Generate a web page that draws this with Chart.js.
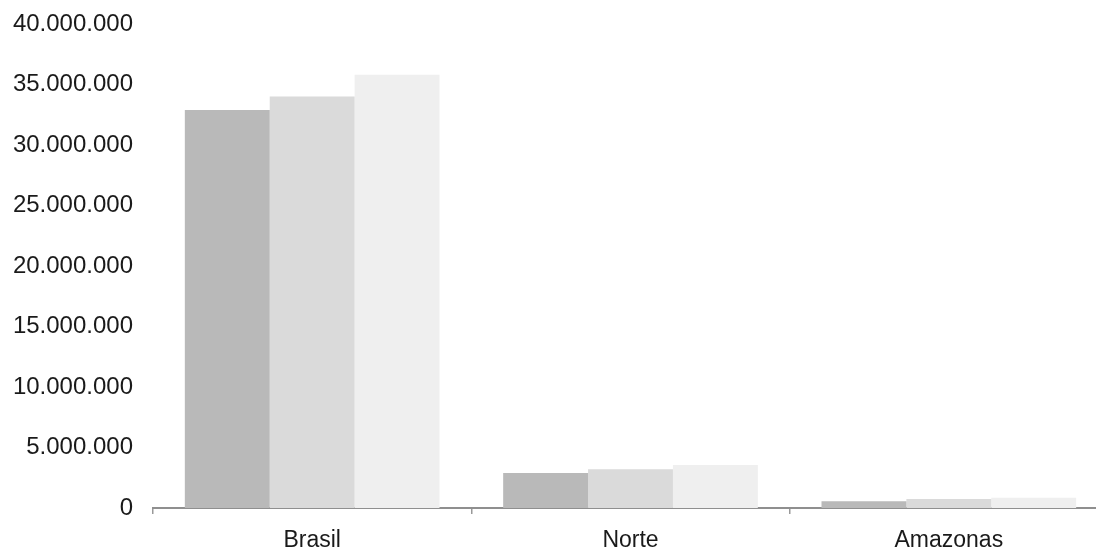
<!DOCTYPE html>
<html>
<head>
<meta charset="utf-8">
<script src="https://cdn.jsdelivr.net/npm/chart.js@4.4.1/dist/chart.umd.min.js"></script>
<style>
  html, body { margin: 0; padding: 0; background: #ffffff; overflow: hidden; }
  #wrap { width: 1096px; height: 551px; position: relative; overflow: hidden; }
</style>
</head>
<body>
<div id="wrap"><canvas id="c" width="1112" height="551"></canvas></div>
<script>
const categories = ["Brasil", "Norte", "Amazonas"];
const series1 = [32900000, 2900000, 550000];
const series2 = [34000000, 3200000, 750000];
const series3 = [35800000, 3550000, 850000];
const yTicks = [0, 5000000, 10000000, 15000000, 20000000, 25000000, 30000000, 35000000, 40000000];

function fmt(v) {
  return String(v).replace(/\B(?=(\d{3})+(?!\d))/g, ".");
}

const font = { family: "'Liberation Sans', Arial, sans-serif", size: 24 };

new Chart(document.getElementById("c"), {
  type: "bar",
  data: {
    labels: categories,
    datasets: [
      { label: "1", data: series1, backgroundColor: "#b9b9b9", borderWidth: 0 },
      { label: "2", data: series2, backgroundColor: "#dadada", borderWidth: 0 },
      { label: "3", data: series3, backgroundColor: "#efefef", borderWidth: 0 }
    ]
  },
  options: {
    responsive: false,
    animation: false,
    events: [],
    layout: { padding: { top: 24, right: 4, left: 0, bottom: 0 } },
    plugins: { legend: { display: false }, tooltip: { enabled: false } },
    datasets: { bar: { categoryPercentage: 0.8, barPercentage: 1.0 } },
    scales: {
      x: {
        grid: { display: true, drawOnChartArea: false, drawTicks: true, tickLength: 6, color: "#999999", lineWidth: 1.5, offset: true },
        border: { display: true, color: "#8f8f8f", width: 2 },
        ticks: { color: "#1a1a1a", font: { family: font.family, size: 23 }, padding: 13, maxRotation: 0 },
        afterFit: function (s) { s.height = 43; }
      },
      y: {
        min: 0,
        max: 40000000,
        grid: { display: false, drawTicks: false },
        border: { display: false },
        afterBuildTicks: function (s) { s.ticks = yTicks.map(v => ({ value: v })); },
        ticks: { color: "#1a1a1a", font: font, padding: 20, callback: v => fmt(v) },
        afterFit: function (s) { s.width = 153; s.paddingTop = 0; }
      }
    }
  }
});
</script>
</body>
</html>
